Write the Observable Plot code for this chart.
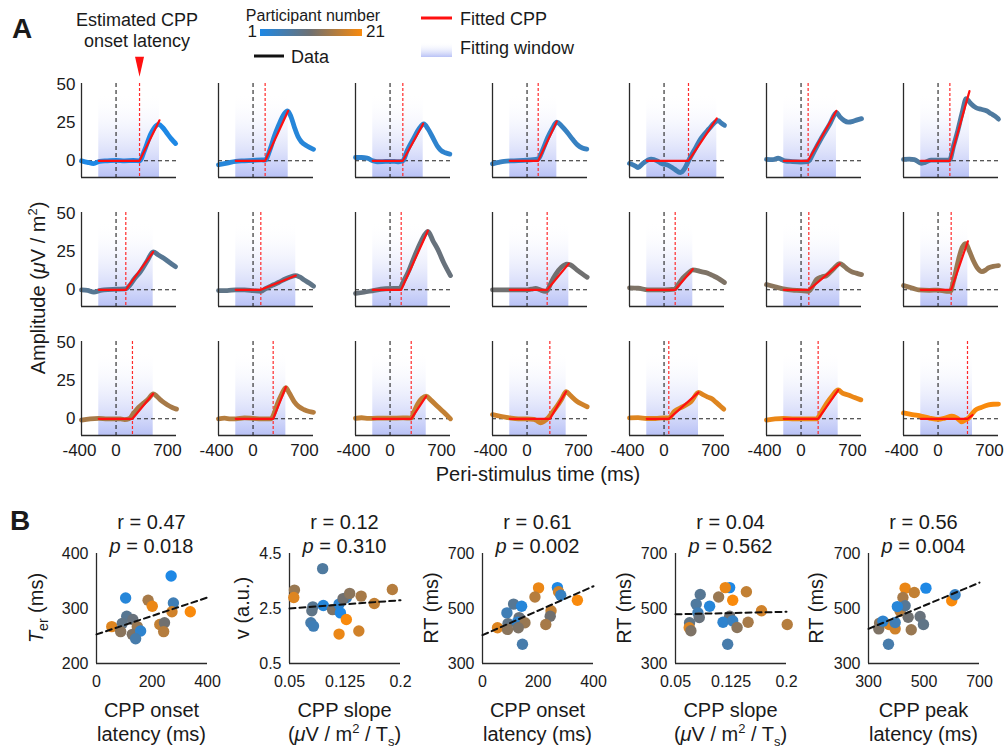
<!DOCTYPE html>
<html><head><meta charset="utf-8">
<script src="https://cdn.jsdelivr.net/npm/d3@7"></script>
<script src="https://cdn.jsdelivr.net/npm/@observablehq/plot@0.6"></script>
<style>
body{margin:0;background:#fff;}
#page{position:relative;width:1005px;height:752px;overflow:hidden;font-family:"Liberation Sans",Arial,Helvetica,sans-serif;color:#1a1a1a;background:#fff}
</style></head>
<body><div id="page"></div>
<script>
// ---------- Data: panel A ----------
const participantCount = 21;
const colorDomain = [1, 11, 21];
const colorRange = ["#1e88e5", "#707070", "#f98a0c"];
const xTicksA = [-400, 0, 700];
const yTicksA = [0, 25, 50];
const windowStart = -200;
// per-participant data knots [time ms, amplitude]
const curveKnots = [
 [[-400,0],[-330,-1],[-260,-1.8],[-190,-0.3],[-100,0],[0,0.3],[100,0],[200,0.2],[272,0],[330,7],[400,17.5],[460,23],[495,24],[540,22],[592,18],[640,14.5],[690,11.4]],
 [[-400,-2.6],[-300,-1.5],[-200,-0.3],[-100,0],[0,0.3],[100,0.6],[140,0.5],[200,8],[245,16],[300,24],[360,31],[400,33],[440,29],[480,22],[520,16],[560,12.5],[620,10],[700,7.6]],
 [[-400,2.2],[-330,2.2],[-265,1.8],[-200,0],[-150,-0.6],[-50,-0.4],[50,-0.3],[100,-0.6],[148,0],[200,7],[275,15],[340,21.5],[391,24.3],[440,21],[507,14],[550,9.5],[584,7.2],[640,5.3],[692,4.4]],
 [[-400,-2],[-330,-1],[-265,-0.3],[-150,0],[0,0.4],[100,1],[129,1.2],[180,7],[237,15],[290,21],[345,25.5],[400,23],[469,18.5],[530,14],[584,10.5],[640,8.5],[692,7.7]],
 [[-400,-1.7],[-330,-3.5],[-300,-4.4],[-250,-2],[-150,1.1],[-80,0],[-33,-1.7],[50,-3],[120,-5.5],[190,-7.7],[240,-5],[283,0],[350,7],[430,15],[520,21],[604,26],[630,26.5],[660,25],[700,23.4]],
 [[-400,1],[-330,0.8],[-265,1.7],[-188,0],[-100,-0.5],[0,-0.8],[82,-0.5],[150,6],[236,15],[330,24],[410,31.7],[450,29],[500,26.5],[545,25.5],[600,26],[650,27],[700,27.8]],
 [[-400,1],[-330,1.1],[-273,0.8],[-195,-1.7],[-150,-1],[-80,0.4],[0,0.4],[133,0.5],[180,10],[229,20],[280,32],[326,41],[360,39],[384,37.5],[440,35],[500,34],[560,33],[616,31],[660,29.5],[700,27.5]],
 [[-400,0],[-330,-0.4],[-257,-1.5],[-180,-0.3],[-141,0],[0,0.4],[110,0.6],[160,3],[206,6.8],[283,12],[360,19],[430,25],[490,23],[553,20.8],[620,18],[688,15.3]],
 [[-400,-0.5],[-300,-0.5],[-200,0],[-100,0],[0,-0.5],[90,-1],[150,1],[245,3.5],[300,5],[360,6.8],[430,8.5],[495,9.4],[540,8.5],[592,6.5],[650,4.5],[700,2.4]],
 [[-400,-2.4],[-300,-1.6],[-180,-0.3],[-50,0.7],[50,1],[110,1],[160,6],[220,13],[283,22],[360,32],[438,38.5],[500,32],[554,26.5],[620,18],[700,9.4]],
 [[-400,0],[-300,0],[-200,0],[-100,0],[0,0],[60,0.5],[98,1],[150,0],[210,-1],[233,-0.5],[280,5],[330,10],[400,15],[460,17],[500,16.5],[580,13],[640,10.5],[696,8.3]],
 [[-400,1.3],[-300,1.1],[-188,0],[-100,0],[0,0],[121,0.4],[170,4],[218,7.7],[280,11],[333,13.2],[430,12],[507,11],[560,9.5],[623,7.7],[700,4.8]],
 [[-400,3.5],[-300,2],[-188,0.4],[-100,-0.2],[0,-0.5],[83,-1],[130,2],[179,6.8],[240,8.5],[295,9.4],[370,13.5],[449,17.3],[500,15.5],[546,13.3],[584,12],[640,11],[700,10]],
 [[-400,2.8],[-300,1.2],[-226,0],[-100,-0.3],[0,-0.2],[102,-1],[141,-1],[180,6],[237,20],[280,28],[322,30.5],[360,26],[411,19],[460,14],[507,12],[550,13],[584,14.5],[640,15.5],[700,16]],
 [[-400,-0.9],[-300,0],[-200,0.3],[-100,0],[0,0],[52,0],[100,-0.5],[150,0],[206,3.9],[260,7.5],[322,10.5],[380,13.5],[430,16.5],[470,15],[515,12.5],[560,10.5],[592,9.3],[650,7.5],[700,6.4]],
 [[-400,0],[-330,0.4],[-260,0],[-200,0],[-100,0.6],[0,0.3],[100,0],[206,0],[240,3],[283,10],[330,16],[380,20.6],[420,17],[476,11.4],[530,8],[592,6],[650,4.8],[700,4.3]],
 [[-400,0.3],[-330,0.7],[-250,0.3],[-150,0.4],[0,0.4],[150,0.6],[245,0.5],[280,5],[322,10],[370,13.5],[419,15],[470,12.5],[554,8],[620,4.5],[700,0]],
 [[-400,2.8],[-307,1.7],[-200,0.6],[-100,0],[0,0],[80,-0.4],[120,-1.5],[155,-2.6],[200,-1.5],[233,0],[290,4],[349,8.5],[400,13],[453,18],[500,15.5],[580,11.4],[640,9.5],[696,8]],
 [[-400,0.6],[-300,0.8],[-200,0.2],[-100,0.2],[0,0.6],[55,0.5],[121,5],[218,8],[314,11.4],[399,17.4],[450,16],[500,14.5],[546,13.5],[600,11],[650,8.5],[692,6.4]],
 [[-400,-0.8],[-300,0],[-200,0.2],[-100,0],[0,0],[100,0],[179,0],[230,4],[295,10],[360,15],[430,19],[480,17],[546,15.7],[620,14],[692,12.5]],
 [[-400,3.9],[-300,2.8],[-188,1.7],[-100,0.5],[5,-0.4],[80,0.5],[160,1.7],[220,0.5],[276,-2],[320,-0.5],[353,0.5],[390,3],[430,5.6],[500,7.5],[584,9.2],[640,9.6],[700,9.7]]
];
const onsetLatency = [272,140,148,129,283,82,137,113,90,129,233,129,90,152,190,233,245,264,55,198,341];
const windowEnd   = [503,407,384,345,611,410,364,430,495,438,484,333,449,345,430,380,419,453,399,430,399];
const fitEndValue = [26.7,33,24.5,26,28,33,46,25,9.4,39,17.3,13.6,17.3,32,16.5,21,15,18,17.4,19,2.5];

// ---------- Data: panel B ----------
const rValues = ["0.47","0.12","0.61","0.04","0.56"];
const pValues = ["0.018","0.310","0.002","0.562","0.004"];

const b1OnsetX = [269,105,277,186,201,272,338,55,109,93,131,147,87,129,159,141,228,245,242];
const b1TerY   = [359,319,310,315,304,294,294,267,286,273,280,267,258,253,259,245,271,274,258];
const b1Pid    = [1,2,5,15,20,18,21,19,8,9,10,14,13,12,3,6,17,11,16];
const b1Fit    = [[0,253],[400,320]];

const b2SlopeX = [0.0948,0.0567,0.0558,0.0815,0.0802,0.0957,0.1082,0.117,0.1188,0.1268,0.1224,0.1313,0.1268,0.1468,0.1646,0.189,0.0789,0.0824,0.117,0.1437];
const b2DriftY = [3.95,3.17,2.90,2.56,2.42,2.61,2.46,2.66,2.34,2.89,2.86,3.05,2.10,2.95,2.68,3.19,1.98,1.86,1.57,1.68];
const b2Pid    = [7,14,19,8,9,2,12,3,1,4,11,13,21,15,17,16,6,5,20,18];
const b2Fit    = [[0.05,2.50],[0.2,2.80]];

const b3OnsetX = [270,202,274,189,282,342,112,141,88,247,244,132,92,126,153,228,54,90,129,144];
const b3RtY    = [576,575,561,542,548,530,516,508,484,492,472,467,445,450,448,442,430,424,430,370];
const b3Pid    = [1,20,18,16,4,21,8,2,5,17,11,10,9,3,14,15,19,13,12,6];
const b3Fit    = [[0,403],[400,581]];

const b4SlopeX = [0.1232,0.1173,0.0834,0.1083,0.1458,0.1273,0.0961,0.078,0.0803,0.1232,0.0821,0.1662,0.1142,0.1273,0.069,0.1481,0.1332,0.0685,0.0708,0.201,0.1205];
const b4RtY    = [576,576,551,542,561,530,508,516,484,472,467,492,450,455,448,450,431,430,419,442,370];
const b4Pid    = [1,20,8,14,17,21,2,7,5,11,10,18,3,4,9,15,13,19,12,16,6];
const b4Fit    = [[0.05,479],[0.2,488]];

const b5PeakX  = [432,600,374,396,465,414,424,454,340,337,443,486,498,432,372,507,612,404,352,396];
const b5RtY    = [574,528,442,426,558,490,540,423,447,426,468,471,442,510,370,574,550,507,454,449];
const b5Pid    = [20,21,19,18,17,16,15,14,13,12,11,10,9,8,6,1,4,2,3,5];
const b5Fit    = [[300,426],[700,594]];

// ---------- Setup ----------
const FONT = '"Liberation Sans", Arial, Helvetica, sans-serif';
const page = document.getElementById("page");
const colorOpts = {type: "linear", domain: colorDomain, range: colorRange, interpolate: "rgb"};

// gradients (document-wide ids)
const defsSvg = d3.select(page).append("svg").attr("width", 0).attr("height", 0)
  .style("position", "absolute");
const defs = defsSvg.append("defs");
const fg = defs.append("linearGradient").attr("id", "fitgrad").attr("x1", 0).attr("y1", 0).attr("x2", 0).attr("y2", 1);
fg.append("stop").attr("offset", "0%").attr("stop-color", "#ffffff").attr("stop-opacity", 0);
fg.append("stop").attr("offset", "100%").attr("stop-color", "#b9c2f6").attr("stop-opacity", 1);
const cb = defs.append("linearGradient").attr("id", "cbgrad").attr("x1", 0).attr("y1", 0).attr("x2", 1).attr("y2", 0);
colorRange.forEach((c, i) => cb.append("stop").attr("offset", (i / (colorRange.length - 1) * 100) + "%").attr("stop-color", c));

// ---------- Panel A ----------
const cell = i => ({p: i + 1, col: i % 7, row: Math.floor(i / 7)});
const curveRows = curveKnots.flatMap((knots, i) => knots.map(([t, v]) => ({...cell(i), t, v})));
const fitRows = onsetLatency.flatMap((on, i) => [
  {...cell(i), t: windowStart, v: 0},
  {...cell(i), t: on, v: 0},
  {...cell(i), t: windowEnd[i], v: fitEndValue[i]}
]);
const windowRows = windowEnd.map((e, i) => ({...cell(i), x1: windowStart, x2: e, y1: -11, y2: 45}));
const onsetRows = onsetLatency.map((t, i) => ({...cell(i), t}));
const markerRows = [{...cell(0), t: onsetLatency[0], y: 62}];
const narrowTriangle = {draw(ctx) { ctx.moveTo(-4.5, -10); ctx.lineTo(4.5, -10); ctx.lineTo(0, 10); ctx.closePath(); }};

const plotA = Plot.plot({
  width: 1005, height: 465,
  marginLeft: 81, marginRight: 7, marginTop: 82, marginBottom: 28,
  style: {background: "transparent", fontFamily: FONT, fontSize: "17px", color: "#1a1a1a", overflow: "visible"},
  x: {domain: [-400, 700]},
  y: {domain: [-11, 51]},
  fx: {domain: d3.range(7), axis: null, paddingInner: 0.307, paddingOuter: 0},
  fy: {domain: [0, 1, 2], axis: null, paddingInner: 0.269, paddingOuter: 0},
  color: colorOpts,
  marks: [
    Plot.rect(windowRows, {x1: "x1", x2: "x2", y1: "y1", y2: "y2", fx: "col", fy: "row", fill: "url(#fitgrad)"}),
    Plot.ruleY([0], {stroke: "#222", strokeDasharray: "4,3", strokeWidth: 1.1}),
    Plot.ruleX([0], {stroke: "#222", strokeDasharray: "4,3", strokeWidth: 1.1}),
    Plot.ruleX(onsetRows, {x: "t", fx: "col", fy: "row", stroke: "#ff2a2a", strokeDasharray: "3,2", strokeWidth: 1.2}),
    Plot.line(curveRows, {x: "t", y: "v", z: "p", fx: "col", fy: "row", stroke: "p", strokeWidth: 4.8, curve: "monotone-x", strokeLinecap: "round", strokeLinejoin: "round"}),
    Plot.line(fitRows, {x: "t", y: "v", z: "p", fx: "col", fy: "row", stroke: "#ff1010", strokeWidth: 2.2}),
    Plot.ruleX([-400], {stroke: "#2a2a2a", strokeWidth: 1.3}),
    Plot.ruleY([-11], {stroke: "#2a2a2a", strokeWidth: 1.3}),
    Plot.axisY({ticks: yTicksA, tickSize: 0, tickPadding: 6, tickFormat: d => String(d), label: null}),
    Plot.axisX({ticks: [xTicksA[0]], tickSize: 0, tickPadding: 8, dx: -2, tickFormat: d => String(d), label: null}),
    Plot.axisX({ticks: [xTicksA[1]], tickSize: 0, tickPadding: 8, tickFormat: d => String(d), label: null}),
    Plot.axisX({ticks: [xTicksA[2]], tickSize: 0, tickPadding: 8, dx: -9, tickFormat: d => String(d), label: null}),
    Plot.dot(markerRows, {x: "t", y: "y", fx: "col", fy: "row", symbol: narrowTriangle, fill: "#ff1010", r: 5})
  ]
});
plotA.style.position = "absolute"; plotA.style.left = "0px"; plotA.style.top = "0px";
page.appendChild(plotA);

// ---------- Panel B ----------
const bLefts = [96, 289, 482, 675, 868];
const bPlotW = 111;
function scatter(k, xs, ys, ps, fit, xDomain, yDomain, xTicks, yTicks) {
  const pts = xs.map((x, i) => ({x, y: ys[i], p: ps[i]}));
  const fitPts = fit.map(([x, y]) => ({x, y}));
  const svg = Plot.plot({
    width: 60 + bPlotW + 10, height: 195,
    marginLeft: 60, marginRight: 10, marginTop: 53, marginBottom: 32,
    style: {background: "transparent", fontFamily: FONT, fontSize: "16px", color: "#1a1a1a", overflow: "visible"},
    x: {domain: xDomain}, y: {domain: yDomain},
    color: colorOpts,
    marks: [
      Plot.ruleX([xDomain[0]], {stroke: "#2a2a2a", strokeWidth: 1.3}),
      Plot.ruleY([yDomain[0]], {stroke: "#2a2a2a", strokeWidth: 1.3}),
      Plot.axisX({ticks: xTicks, tickSize: 0, tickPadding: 12, tickFormat: d => String(d), label: null}),
      Plot.axisY({ticks: yTicks, tickSize: 0, tickPadding: 8, tickFormat: d => String(d), label: null}),
      Plot.dot(pts, {x: "x", y: "y", fill: "p", r: 5.7}),
      Plot.line(fitPts, {x: "x", y: "y", stroke: "#111", strokeWidth: 2, strokeDasharray: "6,4"})
    ]
  });
  svg.style.position = "absolute";
  svg.style.left = (bLefts[k] - 60) + "px";
  svg.style.top = "500px";
  page.appendChild(svg);
}
scatter(0, b1OnsetX, b1TerY, b1Pid, b1Fit, [0, 400], [200, 400], [0, 200, 400], [200, 300, 400]);
scatter(1, b2SlopeX, b2DriftY, b2Pid, b2Fit, [0.05, 0.2], [0.5, 4.5], [0.05, 0.125, 0.2], [0.5, 2.5, 4.5]);
scatter(2, b3OnsetX, b3RtY, b3Pid, b3Fit, [0, 400], [300, 700], [0, 200, 400], [300, 500, 700]);
scatter(3, b4SlopeX, b4RtY, b4Pid, b4Fit, [0.05, 0.2], [300, 700], [0.05, 0.125, 0.2], [300, 500, 700]);
scatter(4, b5PeakX, b5RtY, b5Pid, b5Fit, [300, 700], [300, 700], [300, 500, 700], [300, 500, 700]);

// ---------- Overlay text & legend ----------
const ov = d3.select(page).append("svg").attr("width", 1005).attr("height", 752)
  .style("position", "absolute").style("left", "0px").style("top", "0px")
  .attr("font-family", FONT).attr("fill", "#1a1a1a");
function txt(x, y, html, size, anchor = "start", extra = {}) {
  const t = ov.append("text").attr("x", x).attr("y", y).attr("font-size", size).attr("text-anchor", anchor).html(html);
  for (const k in extra) t.attr(k, extra[k]);
  return t;
}
function rtxt(cx, cy, html, size) {
  return ov.append("text").attr("transform", `translate(${cx},${cy}) rotate(-90)`)
    .attr("font-size", size).attr("text-anchor", "middle").html(html);
}
// Panel A header
txt(12, 38, "A", 28, "start", {"font-weight": "bold"});
txt(137, 26, "Estimated CPP", 18, "middle");
txt(137, 47, "onset latency", 18, "middle");
txt(313, 21, "Participant number", 16, "middle");
ov.append("rect").attr("x", 260).attr("y", 29).attr("width", 102).attr("height", 7).attr("fill", "url(#cbgrad)");
txt(257, 37, "1", 17, "end");
txt(366, 37, "21", 17, "start");
ov.append("line").attr("x1", 254).attr("x2", 284).attr("y1", 56).attr("y2", 56).attr("stroke", "#111").attr("stroke-width", 3);
txt(291, 63, "Data", 18);
ov.append("line").attr("x1", 421).attr("x2", 452).attr("y1", 18).attr("y2", 18).attr("stroke", "#ff1010").attr("stroke-width", 3);
txt(460, 25, "Fitted CPP", 18);
ov.append("rect").attr("x", 421).attr("y", 42).attr("width", 31).attr("height", 15).attr("fill", "url(#fitgrad)");
txt(460, 54, "Fitting window", 18);
rtxt(45, 288, 'Amplitude (<tspan font-style="italic">μ</tspan>V / m<tspan dy="-8" font-size="13">2</tspan><tspan dy="8">)</tspan>', 20);
txt(538, 481, "Peri-stimulus time (ms)", 20, "middle");

// Panel B labels
txt(10, 530, "B", 28, "start", {"font-weight": "bold"});
const slopeLabel = '(<tspan font-style="italic">μ</tspan>V / m<tspan dy="-8" font-size="13">2</tspan><tspan dy="8"> / T</tspan><tspan dy="5" font-size="13">s</tspan><tspan dy="-5">)</tspan>';
const xLabels = [["CPP onset", "latency (ms)"], ["CPP slope", slopeLabel], ["CPP onset", "latency (ms)"], ["CPP slope", slopeLabel], ["CPP peak", "latency (ms)"]];
const yLabels = ['<tspan font-style="italic">T</tspan><tspan dy="5" font-size="14">er</tspan><tspan dy="-5"> (ms)</tspan>', "v (a.u.)", "RT (ms)", "RT (ms)", "RT (ms)"];
const yLabelX = [43, 249, 438, 631, 823];
bLefts.forEach((l, k) => {
  const cx = l + bPlotW / 2;
  txt(cx, 529, `r = ${rValues[k]}`, 20, "middle");
  txt(cx, 553, `<tspan font-style="italic">p</tspan> = ${pValues[k]}`, 20, "middle");
  txt(cx, 717, xLabels[k][0], 20, "middle");
  txt(cx, 741, xLabels[k][1], 20, "middle");
  rtxt(yLabelX[k], 608, yLabels[k], 20);
});
</script>
</body></html>
